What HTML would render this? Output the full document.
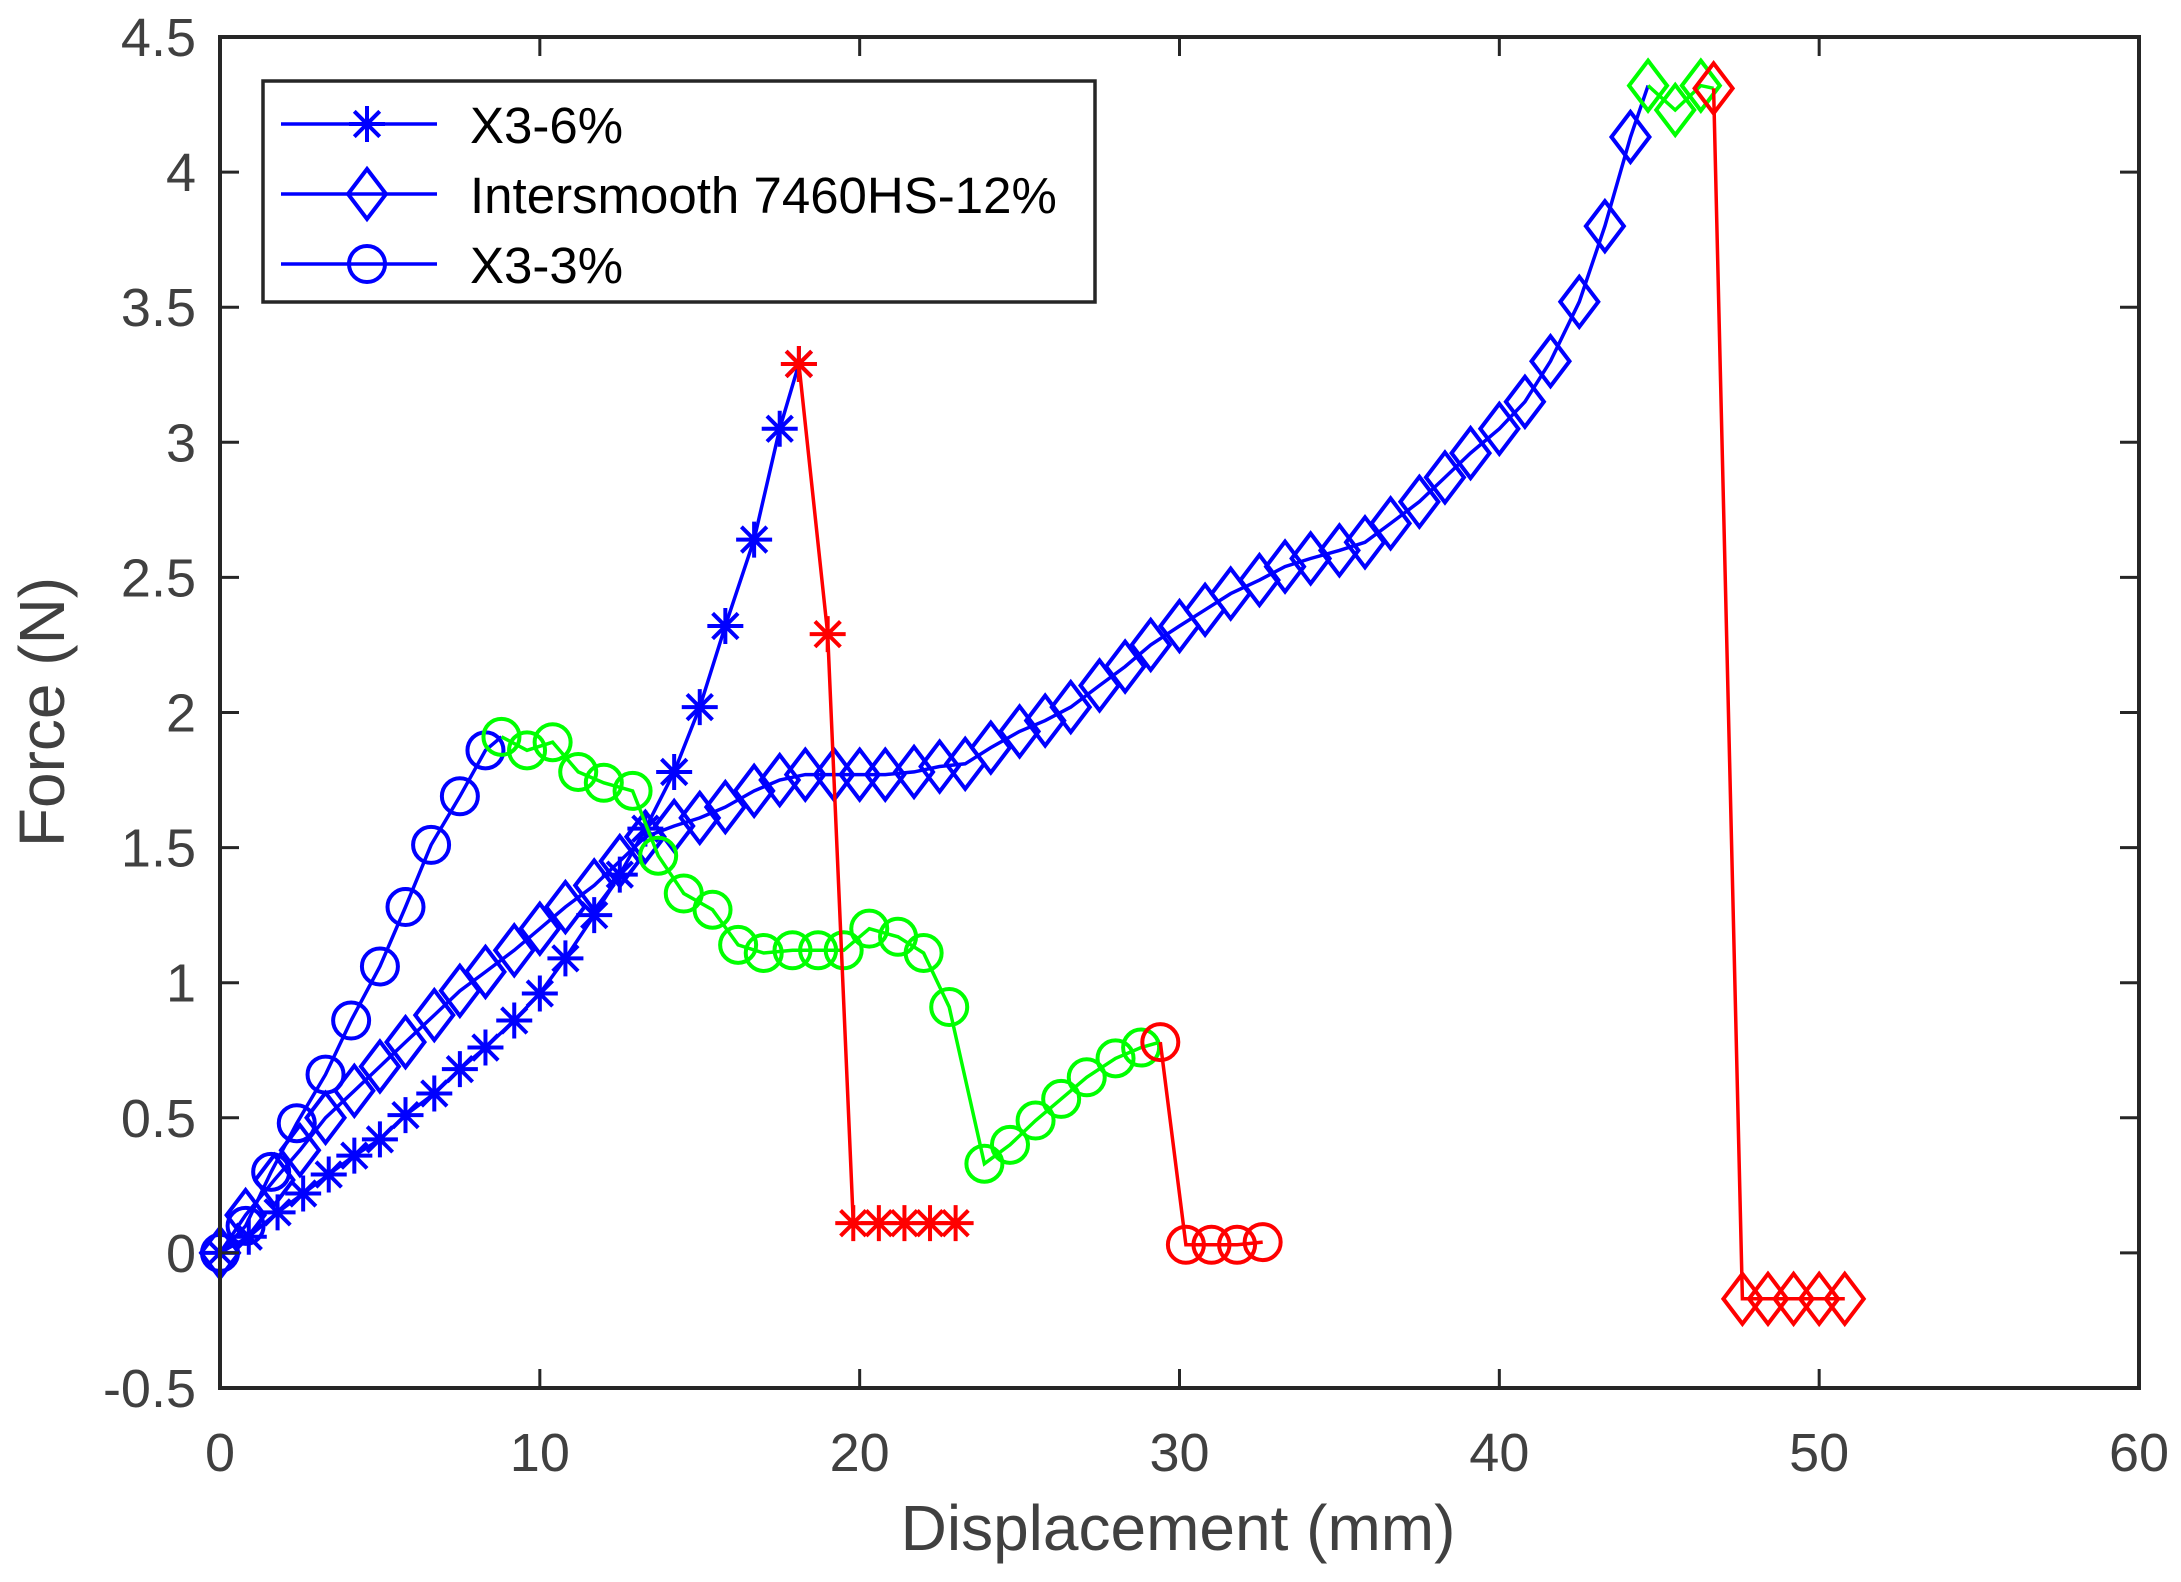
<!DOCTYPE html>
<html><head><meta charset="utf-8"><style>
html,body{margin:0;padding:0;background:#fff;}
svg{display:block;font-family:"Liberation Sans",Arial,sans-serif;}
</style></head><body>
<svg id="chart" width="2181" height="1582" viewBox="0 0 2181 1582" xmlns="http://www.w3.org/2000/svg">
<rect x="0" y="0" width="2181" height="1582" fill="#fff"/>
<g id="marks"></g>
<g id="axes"></g>
<text x="1178" y="1550" font-size="64" fill="#404040" text-anchor="middle">Displacement (mm)</text>
<text transform="translate(64,712) rotate(-90)" font-size="64" fill="#404040" text-anchor="middle">Force (N)</text>
<g id="legend"></g>
</svg>
<script>
const xTicks=[0,10,20,30,40,50,60];
const yTicks=[-0.5,0,0.5,1,1.5,2,2.5,3,3.5,4,4.5];
const yTickLabels=["-0.5","0","0.5","1","1.5","2","2.5","3","3.5","4","4.5"];

// X3-6% (asterisk)
const s6BlueX=[0,0.9,1.8,2.6,3.4,4.2,5.0,5.8,6.7,7.5,8.3,9.2,10.0,10.8,11.7,12.5,13.3,14.2,15.0,15.8,16.7,17.5,18.1];
const s6BlueY=[0,0.06,0.15,0.22,0.29,0.36,0.42,0.51,0.59,0.68,0.76,0.86,0.96,1.09,1.25,1.40,1.57,1.78,2.02,2.32,2.64,3.05,3.29];
const s6RedX=[18.1,19.0,19.8,20.6,21.4,22.2,23.0];
const s6RedY=[3.29,2.29,0.11,0.11,0.11,0.11,0.11];

// Intersmooth 7460HS-12% (diamond)
const s12BlueX=[0,0.8,1.7,2.5,3.3,4.2,5.0,5.8,6.7,7.5,8.3,9.2,10.0,10.8,11.7,12.5,13.3,14.2,15.0,15.8,16.7,17.5,18.3,19.2,20.0,20.8,21.7,22.5,23.3,24.1,25.0,25.8,26.6,27.5,28.3,29.1,30.0,30.8,31.6,32.5,33.3,34.1,35.0,35.8,36.6,37.5,38.3,39.1,40.0,40.8,41.6,42.5,43.3,44.1];
const s12BlueY=[0,0.14,0.27,0.38,0.5,0.6,0.69,0.78,0.88,0.97,1.04,1.12,1.2,1.28,1.36,1.45,1.54,1.58,1.61,1.65,1.71,1.75,1.77,1.77,1.77,1.77,1.78,1.8,1.81,1.87,1.93,1.97,2.02,2.1,2.17,2.25,2.32,2.38,2.44,2.49,2.54,2.57,2.6,2.63,2.7,2.78,2.87,2.96,3.05,3.15,3.3,3.52,3.8,4.13];
const s12LineEndX=44.65, s12LineEndY=4.32;
const s12GreenX=[44.65,45.5,46.3];
const s12GreenY=[4.32,4.23,4.32];
const s12RedX=[46.7,47.6,48.4,49.2,50.0,50.8];
const s12RedY=[4.31,-0.17,-0.17,-0.17,-0.17,-0.17];

// X3-3% (circle)
const s3BlueX=[0,0.8,1.6,2.4,3.3,4.1,5.0,5.8,6.6,7.5,8.3];
const s3BlueY=[0,0.1,0.3,0.48,0.66,0.86,1.06,1.28,1.51,1.69,1.86];
const s3GreenX=[8.8,9.6,10.4,11.2,12.0,12.9,13.7,14.5,15.4,16.2,17.0,17.9,18.7,19.5,20.3,21.2,22.0,22.8,23.9,24.7,25.5,26.3,27.1,28.0,28.8];
const s3GreenY=[1.91,1.86,1.89,1.78,1.74,1.71,1.47,1.33,1.27,1.14,1.11,1.12,1.12,1.12,1.2,1.17,1.11,0.91,0.33,0.4,0.49,0.57,0.65,0.72,0.76];
const s3RedX=[29.4,30.2,31.0,31.8,32.6];
const s3RedY=[0.78,0.03,0.03,0.03,0.04];

const L=220,R=2139,T=37,B=1388;
const xs=v=>L+(v-0)/(60-0)*(R-L);
const ys=v=>B-(v+0.5)/(4.5+0.5)*(B-T);
const NS="http://www.w3.org/2000/svg";
const marks=document.getElementById('marks');
const axes=document.getElementById('axes');
const legend=document.getElementById('legend');
function mk(tag,parent){const e=document.createElementNS(NS,tag);parent.appendChild(e);return e;}
function polyline(px,py,color,name,parent){
  const p=mk('polyline',parent);
  p.setAttribute('points',px.map((v,i)=>v.toFixed(1)+','+py[i].toFixed(1)).join(' '));
  p.setAttribute('fill','none');p.setAttribute('stroke',color);p.setAttribute('stroke-width','3.5');
  
  
}
function marker(type,cx,cy,color,name,parent){
  let e;
  if(type==='o'){e=mk('circle',parent);e.setAttribute('cx',cx);e.setAttribute('cy',cy);e.setAttribute('r',18);}
  else if(type==='d'){e=mk('polygon',parent);e.setAttribute('points',`${cx},${cy-25} ${cx+19},${cy} ${cx},${cy+25} ${cx-19},${cy}`);}
  else {e=mk('path',parent);const r=18,d=r*0.707;
    e.setAttribute('d',`M${cx-r},${cy}H${cx+r}M${cx},${cy-r}V${cy+r}M${cx-d},${cy-d}L${cx+d},${cy+d}M${cx-d},${cy+d}L${cx+d},${cy-d}`);}
  e.setAttribute('fill','none');e.setAttribute('stroke',color);e.setAttribute('stroke-width','4');
  
  
}
function series(X,Y,color,type,name,extraX,extraY){
  const g=mk('g',marks);
  
  
  let lx=X.map(xs),ly=Y.map(ys);
  if(extraX!==undefined){lx=lx.concat([xs(extraX)]);ly=ly.concat([ys(extraY)]);}
  polyline(lx,ly,color,name+'-line',g);
  X.forEach((v,i)=>marker(type,xs(v),ys(Y[i]),color,name+'-point',g));
}
const blue='#0000ff',green='#00ff00',red='#ff0000';
series(s12BlueX,s12BlueY,blue,'d','intersmooth-loading',s12LineEndX,s12LineEndY);
series(s6BlueX,s6BlueY,blue,'*','x3-6-loading');
series(s3BlueX,s3BlueY,blue,'o','x3-3-loading',s3GreenX[0],s3GreenY[0]);
series(s3GreenX,s3GreenY,green,'o','x3-3-softening',s3RedX[0],s3RedY[0]);
series(s12GreenX,s12GreenY,green,'d','intersmooth-softening',s12RedX[0],s12RedY[0]);
series(s6RedX,s6RedY,red,'*','x3-6-failure');
series(s3RedX,s3RedY,red,'o','x3-3-failure');
series(s12RedX,s12RedY,red,'d','intersmooth-failure');

// axes box
const box=mk('rect',axes);
box.setAttribute('x',L);box.setAttribute('y',T);box.setAttribute('width',R-L);box.setAttribute('height',B-T);
box.setAttribute('fill','none');box.setAttribute('stroke','#262626');box.setAttribute('stroke-width','4');


xTicks.forEach(v=>{
  const x=xs(v);
  const t=mk('path',axes);
  t.setAttribute('d',`M${x},${B}V${B-19}M${x},${T}V${T+19}`);
  t.setAttribute('stroke','#262626');t.setAttribute('stroke-width','3');
  
  
  const l=mk('text',axes);
  l.setAttribute('x',x);l.setAttribute('y',1471);l.setAttribute('font-size','54');l.setAttribute('fill','#404040');l.setAttribute('text-anchor','middle');
  l.textContent=String(v);
  
  
});
yTicks.forEach((v,i)=>{
  const y=ys(v);
  const t=mk('path',axes);
  t.setAttribute('d',`M${L},${y}H${L+19}M${R},${y}H${R-19}`);
  t.setAttribute('stroke','#262626');t.setAttribute('stroke-width','3');
  
  
  const l=mk('text',axes);
  l.setAttribute('x',196);l.setAttribute('y',y+19);l.setAttribute('font-size','54');l.setAttribute('fill','#404040');l.setAttribute('text-anchor','end');
  l.textContent=yTickLabels[i];
  
  
});

// legend
const lb=mk('rect',legend);
lb.setAttribute('x',263);lb.setAttribute('y',81);lb.setAttribute('width',832);lb.setAttribute('height',221);
lb.setAttribute('fill','#fff');lb.setAttribute('stroke','#262626');lb.setAttribute('stroke-width','3.5');


const legNames=['X3-6%','Intersmooth 7460HS-12%','X3-3%'];
const legTypes=['*','d','o'];
const legY=[124,194,264];
legNames.forEach((n,i)=>{
  const g=mk('g',legend);
  
  
  polyline([281,437],[legY[i],legY[i]],blue,'legend-line',g);
  marker(legTypes[i],367,legY[i],blue,'legend-marker',g);
  const t=mk('text',g);
  t.setAttribute('x',470);t.setAttribute('y',legY[i]+19);t.setAttribute('font-size','51');t.setAttribute('fill','#000');
  t.textContent=n;
  
  
});
</script>
</body></html>
